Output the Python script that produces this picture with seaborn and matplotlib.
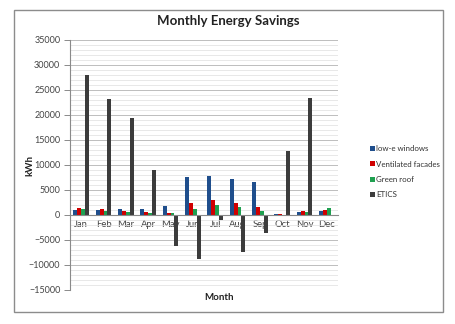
import matplotlib
matplotlib.use("Agg")
import matplotlib.pyplot as plt
import seaborn as sns
import pandas as pd
from matplotlib.patches import Rectangle
from matplotlib.ticker import MultipleLocator

months = ["Jan", "Feb", "Mar", "Apr", "May", "Jun", "Jul", "Aug", "Sep", "Oct", "Nov", "Dec"]
series = ["low-e windows", "Ventilated facades", "Green roof", "ETICS"]
low_e = [1000, 1000, 1200, 1100, 1800, 7500, 7700, 7100, 6500, 100, 500, 700]
ventilated = [1300, 1100, 800, 500, 400, 2300, 3000, 2400, 1500, 100, 700, 1000]
green_roof = [1100, 800, 600, 300, 300, 1200, 1900, 1500, 700, 50, 500, 1400]
etics = [28000, 23200, 19400, 9000, -6300, -8800, -1000, -7400, -3600, 12800, 23400, 0]
colors = ["#1F4E8C", "#D00000", "#1FA050", "#3C3C3C"]

rows = []
for name, vals in zip(series, [low_e, ventilated, green_roof, etics]):
    for m, v in zip(months, vals):
        rows.append({"Month": m, "Series": name, "kWh": v})
df = pd.DataFrame(rows)

sns.set_theme(style="white")
plt.rcParams['font.family'] = ['Lato', 'DejaVu Sans']

fig = plt.figure(figsize=(4.55, 3.24), dpi=100)
ax = fig.add_axes([0.154, 0.105, 0.589, 0.772])

sns.barplot(data=df, x="Month", y="kWh", hue="Series", order=months,
            hue_order=series, palette=colors, width=0.7, gap=0.0,
            saturation=1, linewidth=0, ax=ax, legend=True)

ax.set_ylim(-15000, 35000)
ax.set_xlim(-0.5, 11.5)
ax.yaxis.set_major_locator(MultipleLocator(5000))
ax.yaxis.set_minor_locator(MultipleLocator(1000))
ax.grid(True, which="major", axis="y", color="#bdbdbd", linewidth=0.7)
ax.grid(True, which="minor", axis="y", color="#dedede", linewidth=0.5)
ax.set_axisbelow(True)

for s in ["top", "right"]:
    ax.spines[s].set_visible(False)
ax.spines["left"].set_color("#8a8a8a")
ax.spines["left"].set_linewidth(0.8)
ax.spines["bottom"].set_position(("data", 0))
ax.spines["bottom"].set_color("#8a8a8a")
ax.spines["bottom"].set_linewidth(0.8)

ax.tick_params(axis="y", which="major", left=True, length=4, width=0.7,
               color="#8a8a8a", labelsize=6.5, labelcolor="#444444", pad=3)
ax.tick_params(axis="x", length=0, labelsize=6.8, labelcolor="#444444", pad=4)
ax.set_xlabel("")
ax.set_ylabel("")

leg = ax.legend(loc="center left", bbox_to_anchor=(0.797, 0.47),
                bbox_transform=fig.transFigure, frameon=False, fontsize=5.7,
                handlelength=0.6, handleheight=0.6, handletextpad=0.2,
                labelspacing=1.05)
for t in leg.get_texts():
    t.set_color("#333333")

fig.text(0.502, 0.935, "Monthly Energy Savings", ha="center", va="center",
         fontsize=9.5, fontweight="bold", color="#222222")
fig.text(0.482, 0.083, "Month", ha="center", va="center", fontsize=7,
         fontweight="bold", color="#222222")
fig.text(0.065, 0.49, "kWh", ha="center", va="center", rotation=90,
         fontsize=7, fontweight="bold", color="#222222")

fig.patches.append(Rectangle((0.031, 0.037), 0.943, 0.932, transform=fig.transFigure,
                             fill=False, edgecolor="#8c8c8c", linewidth=1.0))

fig.savefig("out.png", dpi=100)
